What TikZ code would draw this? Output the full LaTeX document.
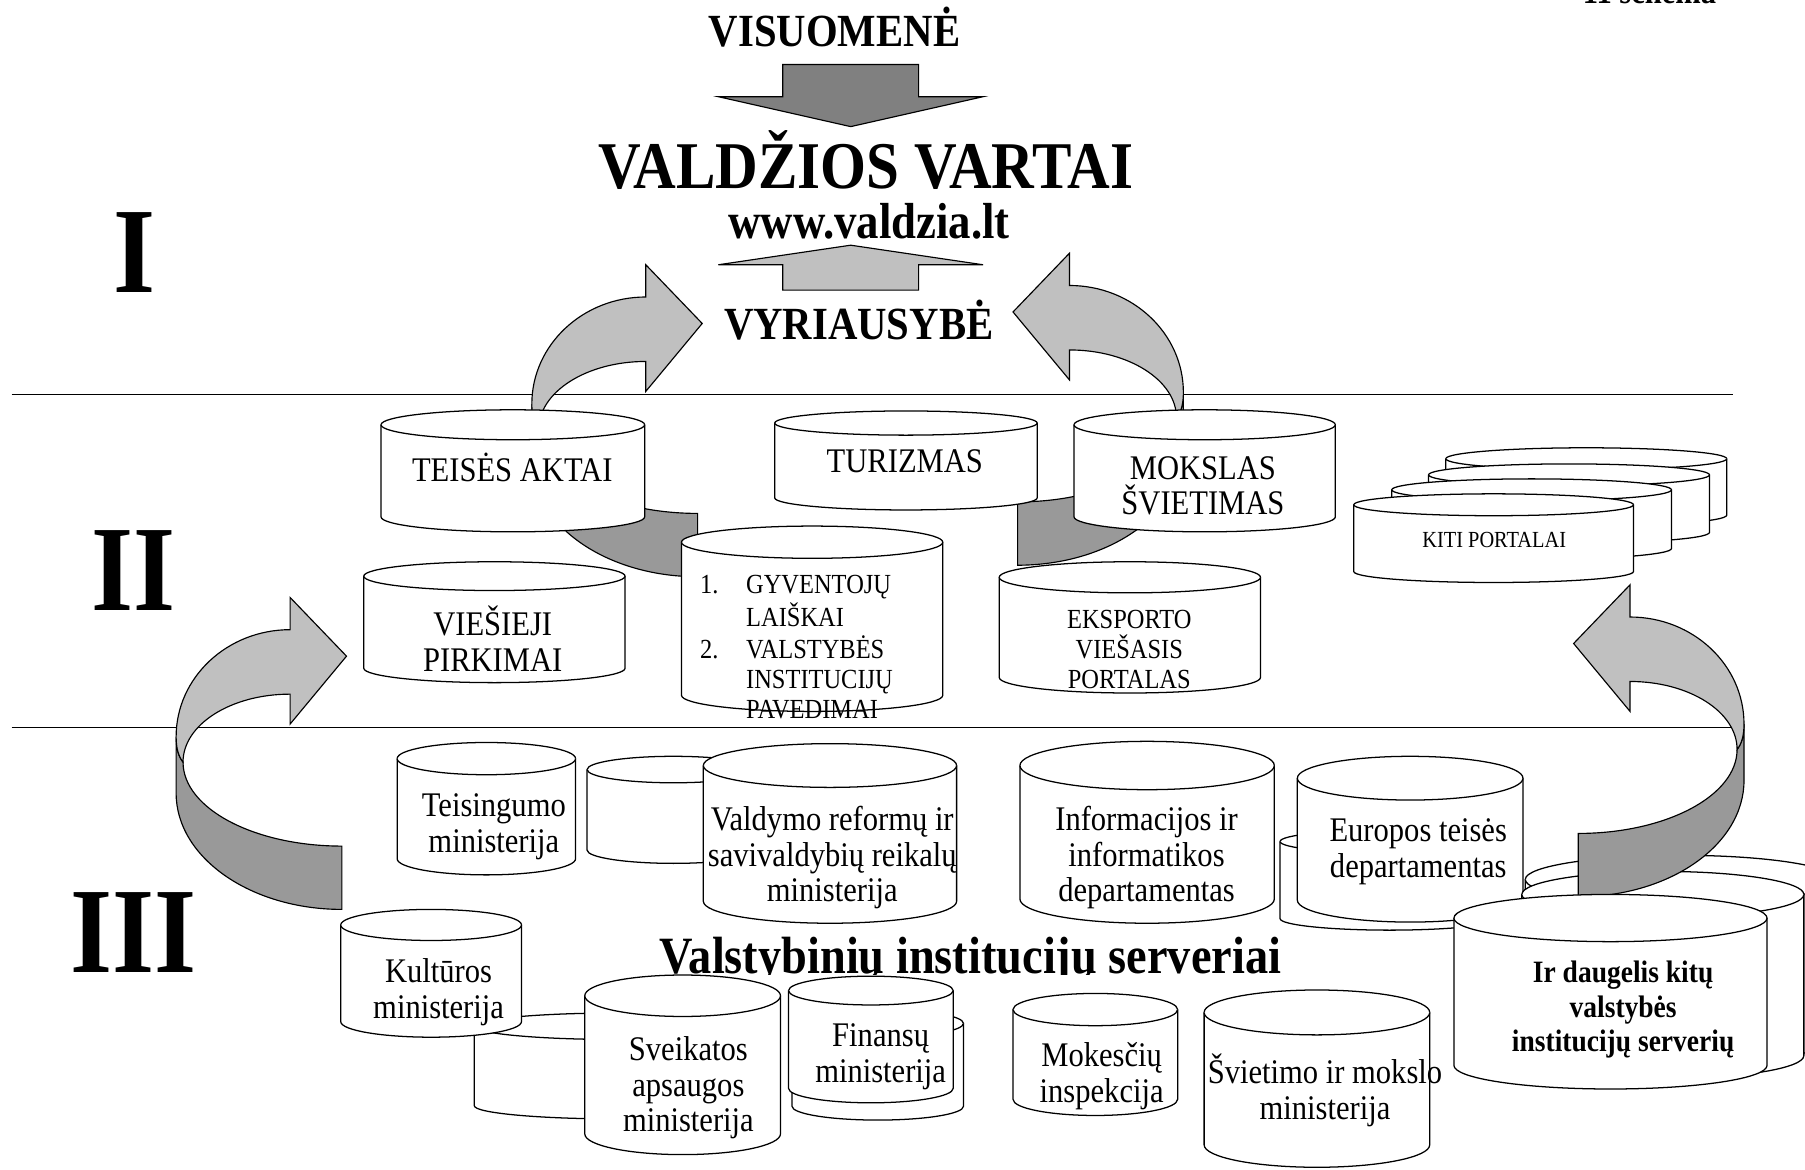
\documentclass[tikz,border=0pt]{standalone}
\usepackage{fontspec}
\setmainfont{Liberation Serif}[FakeStretch=0.885]

\definecolor{riblt}{RGB}{192,192,192}
\definecolor{ribdk}{RGB}{153,153,153}
\definecolor{arrdk}{RGB}{128,128,128}

\tikzset{
  cyl/.style={line width=1.1pt, fill=white},
  lbl/.style={align=center, inner sep=0pt, font=\fontsize{30}{31}\selectfont},
  lblsm/.style={align=center, inner sep=0pt, font=\fontsize{24}{26}\selectfont},
  lblbf/.style={align=center, inner sep=0pt, font=\bfseries\fontsize{27}{30}\selectfont},
  bigtxt/.style={inner sep=0pt, anchor=base, font=\bfseries\fontsize{#1}{#1}\selectfont},
  ribbondark/.style={line width=1pt, fill=ribdk},
  ribbonlight/.style={line width=1pt, fill=riblt}
}

% cylinder: left, top, width, height, ellipse diameter
\newcommand{\dbcyl}[5]{%
  \filldraw[cyl] (#1,{#2+#5/2}) -- (#1,{#2+#4-#5/2})
    arc[start angle=180, end angle=0, x radius={#3/2}, y radius={#5/2}]
    -- ({#1+#3},{#2+#5/2})
    arc[start angle=0, end angle=-180, x radius={#3/2}, y radius={#5/2}] -- cycle;
  \draw[cyl] (#1,{#2+#5/2})
    arc[start angle=180, end angle=0, x radius={#3/2}, y radius={#5/2}];}

% curved ribbon arrow, tip at the origin
\newcommand{\curvribbon}{%
  \filldraw[ribbondark] (-148,70) -- (-148,119)
    arc[start angle=180, end angle=90, x radius=144, y radius=101]
    -- (-4,165)
    arc[start angle=90, end angle=180, x radius=138, y radius=73]
    .. controls (-146,87) and (-148,80) .. (-148,70) -- cycle;
  \filldraw[ribbonlight] (0,0) -- (-49,-51) -- (-49,-23)
    arc[start angle=270, end angle=180, x radius=99, y radius=93]
    .. controls (-148,80) and (-146,87) .. (-142,92)
    arc[start angle=180, end angle=270, x radius=93, y radius=59]
    -- (-49,59) -- cycle;}

\begin{document}
\begin{tikzpicture}[x=1pt,y=1pt,yscale=-1]
\useasboundingbox (0,0) rectangle (1568,1016);

%level lines
\draw[line width=1.1pt] (10,343) -- (1505,343);
\draw[line width=1.1pt] (10,632) -- (1505,632);

%top
\node[bigtxt=30] (schema) at (1433,3) {11 schema};
\node[bigtxt=40] (visuomene) at (725,40) {VISUOMENĖ};
\filldraw[line width=1pt, fill=arrdk] (680,56) -- (798,56) -- (798,84) -- (854,84) -- (739,110) -- (624,84) -- (680,84) -- cycle;
\node[bigtxt=58] (vartai) at (752,164) {VALDŽIOS VARTAI};
\node[bigtxt=44] (www) at (755,207) {www.valdzia.lt};
\filldraw[line width=1pt, fill=riblt] (739,213) -- (854,230) -- (798,230) -- (798,252) -- (680,252) -- (680,230) -- (624,230) -- cycle;
\node[bigtxt=40] (vyriausybe) at (746,295) {VYRIAUSYBĖ};

%roman numbers
\node[bigtxt=106] (numI) at (117,254) {I};
\node[bigtxt=106] (numII) at (116,530) {II};
\node[bigtxt=106] (numIII) at (116,845) {III};

%curved arrows
\begin{scope}[shift={(610,281)}] \curvribbon \end{scope}
\begin{scope}[shift={(880,271)},xscale=-1] \curvribbon \end{scope}
\begin{scope}[shift={(301,570)}] \curvribbon \end{scope}

%level II
\dbcyl{331}{356}{229}{106}{26}
\node[lbl] (teises) at (445,406) {TEISĖS AKTAI};
\dbcyl{673}{357}{228}{86}{21}
\node[lbl] (turizmas) at (786,401) {TURIZMAS};
\dbcyl{933}{356}{227}{106}{26}
\node[lbl] (mokslas) at (1045,422) {MOKSLAS\\ŠVIETIMAS};
\dbcyl{316}{488}{227}{105}{25}
\node[lbl] (viesieji) at (428,555) {VIEŠIEJI\\PIRKIMAI};
\dbcyl{592}{457}{227}{161}{28}
\node[inner sep=0pt, anchor=base west, font=\fontsize{24}{26}\selectfont] (laiskai) at (608,516)
  {\begin{tabular}[t]{@{}p{40pt}@{}l@{}}1.&GYVENTOJŲ\\&LAIŠKAI\\2.&VALSTYBĖS\\&INSTITUCIJŲ\\&PAVEDIMAI\end{tabular}};
\dbcyl{868}{488}{227}{114}{27}
\node[lblsm] (eksportas) at (981,564) {EKSPORTO\\VIEŠASIS\\PORTALAS};
\dbcyl{1256}{389}{244}{68}{19}
\dbcyl{1241}{403}{244}{69}{19}
\dbcyl{1209}{416}{243}{70}{19}
\dbcyl{1176}{429}{243}{77}{19}
\node[inner sep=0pt, font=\fontsize{20}{22}\selectfont] (kiti) at (1298,469) {KITI PORTALAI};

%level III
\dbcyl{345}{645}{155}{115}{28}
\node[lbl] (teisingumo) at (429,718) {Teisingumo\\ministerija};
\dbcyl{510}{657}{150}{93}{23}
\dbcyl{611}{646}{220}{156}{38}
\node[lbl] (valdymo) at (723,745) {Valdymo reformų ir\\savivaldybių reikalų\\ministerija};
\dbcyl{886}{644}{221}{158}{42}
\node[lbl] (informacijos) at (996,745) {Informacijos ir\\informatikos\\departamentas};
\dbcyl{1112}{721}{190}{87}{20}
\dbcyl{1127}{657}{196}{144}{38}
\node[lbl] (europos) at (1232,740) {Europos teisės\\departamentas};
\dbcyl{1325}{743}{270}{180}{42}
\dbcyl{1322}{757}{245}{180}{40}
\begin{scope}[shift={(1367,559)},xscale=-1] \curvribbon \end{scope}
\dbcyl{1263}{777}{272}{169}{41}
\node[lblbf] (daugelis) at (1410,877) {Ir daugelis kitų\\valstybės\\institucijų serverių};
\dbcyl{412}{880}{248}{92}{23}
\dbcyl{296}{790}{157}{111}{27}
\node[lbl] (kulturos) at (381,862) {Kultūros\\ministerija};
\dbcyl{508}{847}{170}{156}{36}
\node[lbl] (sveikatos) at (598,945) {Sveikatos\\apsaugos\\ministerija};
\dbcyl{688}{877}{149}{96}{24}
\dbcyl{685}{848}{143}{110}{25}
\node[lbl] (finansu) at (765,918) {Finansų\\ministerija};
\dbcyl{880}{863}{143}{106}{28}
\node[lbl] (mokesciu) at (957,935) {Mokesčių\\inspekcija};
\dbcyl{1046}{860}{196}{154}{39}
\node[lbl] (svietimo) at (1151,947) {Švietimo ir mokslo\\ministerija};

\begin{scope}
\clip (500,790) rectangle (1200,846.5);
\node[bigtxt=45.5] (serveriai) at (843,846) {Valstybinių institucijų serveriai};
\end{scope}

\end{tikzpicture}
\end{document}
